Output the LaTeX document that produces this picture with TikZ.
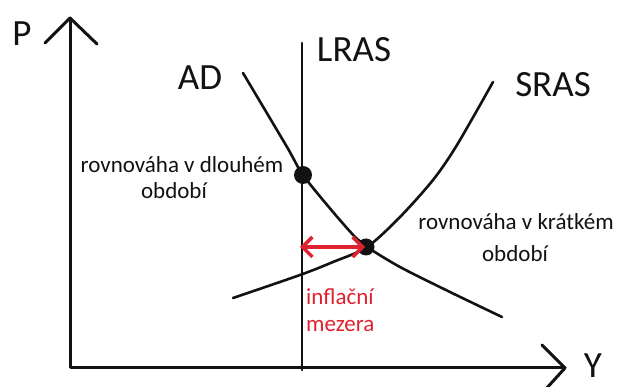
\documentclass[tikz,border=0pt]{standalone}
\usepackage{fontspec}
\setmainfont{Carlito}
\usetikzlibrary{arrows.meta}
\definecolor{gapred}{RGB}{222,34,48}
\definecolor{ink}{RGB}{18,18,18}
\begin{document}
\begin{tikzpicture}[x=1pt,y=-1pt,
  axis/.style={line width=3pt, draw=ink, line cap=round, line join=round},
  curve/.style={line width=2.6pt, draw=ink, line cap=round},
  big/.style={font=\fontsize{37}{40}\selectfont, text=ink, inner sep=0pt, anchor=base},
  small/.style={font=\fontsize{23}{27}\selectfont, text=ink, inner sep=0pt, anchor=base},
  redtext/.style={font=\fontsize{23}{27}\selectfont, text=gapred, inner sep=0pt, anchor=base west},
  eqdot/.style={circle, fill=ink, inner sep=0pt, minimum size=18pt},
  gaparrow/.style={line width=3.5pt, draw=gapred, {Straight Barb[length=10pt,width=20pt]}-{Straight Barb[length=10pt,width=20pt]}}
]
\useasboundingbox (0,0) rectangle (622,387);
\fill[white] (0,0) rectangle (622,387);

% axes
\coordinate (O) at (70,368);
\coordinate (Ptop) at (70,18);
\coordinate (Pl) at (45,43);
\coordinate (Pr) at (97,44);
\coordinate (Yend) at (565,368);
\coordinate (Yu) at (542,345);
\coordinate (Yd) at (545,390);
\draw[axis] (Ptop) -- (O) -- (Yend);
\draw[axis] (Pl) -- (Ptop) -- (Pr);
\draw[axis] (Yu) -- (Yend) -- (Yd);

% LRAS
\coordinate (Ltop) at (302,43);
\coordinate (Lbot) at (302,370);
\draw[curve] (Ltop) -- (Lbot);

% AD
\draw[curve] plot[smooth, tension=0.5] coordinates {(243,73) (287,147) (303,175) (333,212) (356,238) (367,247) (400,267) (450,292) (502,317)};
% SRAS
\draw[curve] plot[smooth, tension=0.5] coordinates {(233,298) (300,275) (333,262) (367,247) (400,217) (433,180) (457,145) (493,82)};

% equilibria
\node[eqdot] (lr) at (303,175) {};
\node[eqdot, minimum size=17pt] (sr) at (366,247) {};

% inflationary gap
\coordinate (gapL) at (300,247);
\draw[gaparrow, shorten >=1pt] (gapL) -- (sr.center);

% labels
\node[big] (lP) at (22,46) {P};
\node[big] (lY) at (593,378) {Y};
\node[big] (lAD) at (200,90) {AD};
\node[big] (lLRAS) at (354,62) {LRAS};
\node[big] (lSRAS) at (553,97) {SRAS};

\node[small] (lr1) at (182,173) {rovnováha v dlouhém};
\node[small] (lr2) at (174,199) {období};
\node[small] (sr1) at (516,230) {rovnováha v krátkém};
\node[small] (sr2) at (515,262) {období};
\node[redtext] (g1) at (306,305) {inflační};
\node[redtext] (g2) at (306,332) {mezera};
\end{tikzpicture}
\end{document}
